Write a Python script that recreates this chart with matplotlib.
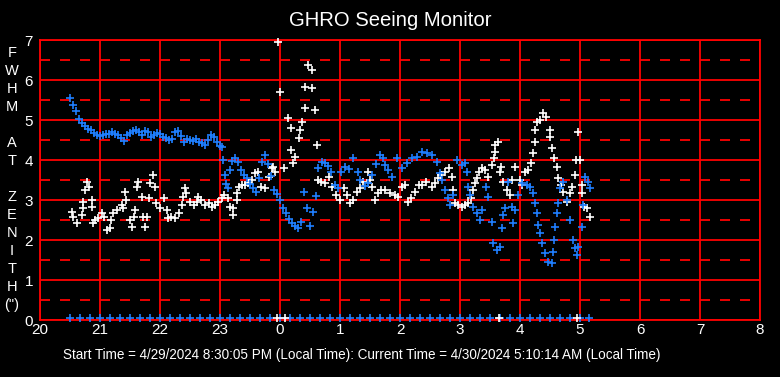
import matplotlib
matplotlib.use("Agg")
import matplotlib.pyplot as plt

plt.rcParams['font.family'] = ['Liberation Sans', 'DejaVu Sans']
plt.rcParams['lines.scale_dashes'] = False

# Hours since the start day's midnight (values past 24 belong to the next day)
blue_t = [20.50, 20.55, 20.60, 20.65, 20.70, 20.75, 20.80, 20.85, 20.90, 20.95,
          21.00, 21.05, 21.10, 21.15, 21.20, 21.25, 21.30, 21.35, 21.40, 21.45,
          21.50, 21.55, 21.60, 21.65, 21.70, 21.75, 21.80, 21.85, 21.90, 21.95,
          22.00, 22.05, 22.10, 22.15, 22.20, 22.25, 22.30, 22.35, 22.40, 22.45,
          22.50, 22.55, 22.60, 22.65, 22.70, 22.75, 22.80, 22.85, 22.90, 22.95,
          23.00, 23.03, 23.05, 23.08, 23.10, 23.13, 23.17, 23.20, 23.25, 23.30,
          23.35, 23.40, 23.45, 23.50, 23.55, 23.60, 23.65, 23.70, 23.75, 23.80,
          23.85, 23.90, 23.95, 24.00, 24.05, 24.10, 24.15, 24.20, 24.25, 24.30,
          24.35, 24.40, 24.45, 24.50, 24.55, 24.60, 24.63, 24.70, 24.75, 24.80,
          24.85, 24.92, 24.97, 25.02, 25.08, 25.15, 25.22, 25.30, 25.33, 25.42,
          25.47, 25.53, 25.60, 25.67, 25.72, 25.75, 25.80, 25.87, 25.95, 26.03,
          26.12, 26.20, 26.28, 26.37, 26.45, 26.53, 26.62, 26.67, 26.70, 26.75,
          26.80, 26.83, 26.88, 26.95, 27.03, 27.08, 27.12, 27.13, 27.17, 27.22,
          27.28, 27.33, 27.37, 27.43, 27.47, 27.53, 27.55, 27.61, 27.67, 27.70,
          27.72, 27.75, 27.80, 27.86, 27.88, 27.92, 27.97, 28.03, 28.11, 28.17,
          28.22, 28.25, 28.28, 28.30, 28.33, 28.36, 28.42, 28.47, 28.53, 28.55,
          28.56, 28.58, 28.61, 28.63, 28.67, 28.72, 28.78, 28.83, 28.88, 28.92,
          28.95, 28.97, 29.03, 29.05, 29.08, 29.13, 29.17]
blue_fwhm = [5.54, 5.37, 5.22, 5.02, 4.92, 4.86, 4.78, 4.74, 4.68, 4.63,
             4.60, 4.62, 4.66, 4.64, 4.70, 4.66, 4.62, 4.55, 4.47, 4.62,
             4.68, 4.72, 4.76, 4.70, 4.63, 4.72, 4.69, 4.58, 4.62, 4.68,
             4.66, 4.58, 4.55, 4.49, 4.53, 4.70, 4.72, 4.60, 4.45, 4.52,
             4.50, 4.48, 4.52, 4.46, 4.42, 4.38, 4.50, 4.62, 4.57, 4.45,
             4.36, 4.33, 4.00, 3.62, 3.40, 3.30, 3.75, 3.98, 4.05, 3.95,
             3.75, 3.62, 3.56, 3.40, 3.30, 3.20, 3.55, 3.96, 4.12, 3.90,
             3.60, 3.25, 3.15, 3.00, 2.80, 2.68, 2.52, 2.42, 2.34, 2.30,
             2.45, 3.20, 2.80, 2.35, 2.70, 3.10, 3.80, 3.96, 3.92, 3.85,
             3.70, 3.37, 3.29, 3.71, 3.82, 3.78, 4.04, 3.70, 3.50, 3.35,
             3.42, 3.62, 3.90, 4.12, 4.05, 3.87, 3.75, 3.58, 4.04, 3.79,
             3.92, 4.04, 4.08, 4.21, 4.17, 4.12, 3.96, 3.67, 3.50, 3.25,
             3.04, 2.87, 3.12, 4.00, 3.87, 3.92, 3.71, 3.33, 3.12, 2.83,
             2.67, 2.50, 2.75, 3.33, 3.08, 2.46, 1.92, 1.75, 1.83, 2.29,
             2.62, 2.79, 3.46, 2.83, 2.42, 2.75, 3.12, 3.42, 3.37, 3.33,
             3.17, 2.92, 2.67, 2.37, 2.17, 1.92, 1.67, 1.46, 1.42, 1.71,
             2.00, 2.33, 2.67, 2.92, 3.29, 3.46, 3.00, 2.50, 2.00, 1.79,
             1.62, 1.83, 2.33, 2.87, 3.58, 3.46, 3.29]

white_t = [20.53, 20.55, 20.61, 20.70, 20.72, 20.72, 20.75, 20.78, 20.81, 20.86,
           20.86, 20.89, 20.92, 20.97, 21.03, 21.06, 21.11, 21.17, 21.19, 21.22,
           21.28, 21.36, 21.39, 21.42, 21.44, 21.50, 21.53, 21.56, 21.58, 21.61,
           21.64, 21.70, 21.72, 21.75, 21.78, 21.81, 21.83, 21.88, 21.92, 21.94,
           22.00, 22.06, 22.11, 22.14, 22.19, 22.25, 22.31, 22.36, 22.39, 22.42,
           22.44, 22.50, 22.56, 22.61, 22.64, 22.69, 22.75, 22.81, 22.86, 22.92,
           22.97, 23.03, 23.06, 23.14, 23.17, 23.22, 23.22, 23.28, 23.28, 23.31,
           23.36, 23.42, 23.47, 23.53, 23.58, 23.64, 23.69, 23.75, 23.81, 23.86,
           23.89, 23.92, 23.97, 24.00, 24.06, 24.14, 24.19, 24.19, 24.22, 24.25,
           24.31, 24.33, 24.36, 24.42, 24.42, 24.47, 24.53, 24.53, 24.58, 24.61,
           24.64, 24.69, 24.75, 24.81, 24.86, 24.94, 25.00, 25.06, 25.11, 25.17,
           25.22, 25.28, 25.33, 25.39, 25.46, 25.50, 25.53, 25.58, 25.64, 25.69,
           25.75, 25.83, 25.92, 25.97, 26.03, 26.08, 26.14, 26.19, 26.25, 26.31,
           26.36, 26.44, 26.53, 26.58, 26.64, 26.69, 26.75, 26.81, 26.86, 26.89,
           26.92, 26.97, 27.03, 27.08, 27.14, 27.19, 27.22, 27.25, 27.28, 27.31,
           27.36, 27.42, 27.47, 27.53, 27.56, 27.58, 27.58, 27.64, 27.67, 27.69,
           27.72, 27.78, 27.83, 27.86, 27.92, 28.00, 28.03, 28.08, 28.14, 28.19,
           28.22, 28.25, 28.25, 28.28, 28.33, 28.39, 28.44, 28.50, 28.50, 28.53,
           28.56, 28.61, 28.64, 28.69, 28.72, 28.78, 28.83, 28.86, 28.92, 28.94,
           28.97, 29.00, 29.03, 29.03, 29.06, 29.11, 29.17]
white_fwhm = [2.71, 2.58, 2.42, 2.62, 2.79, 2.96, 3.25, 3.46, 3.33, 2.83,
              3.00, 2.42, 2.50, 2.54, 2.67, 2.58, 2.25, 2.29, 2.50, 2.67,
              2.75, 2.87, 2.79, 3.21, 3.00, 2.50, 2.33, 2.58, 2.75, 3.33,
              3.46, 3.08, 2.58, 2.33, 2.58, 3.04, 3.42, 3.62, 3.33, 2.92,
              2.79, 3.04, 2.75, 2.54, 2.58, 2.54, 2.67, 2.87, 3.08, 3.29,
              3.17, 2.96, 2.87, 2.96, 3.08, 3.00, 2.87, 2.92, 2.83, 2.87,
              2.96, 3.04, 3.12, 3.04, 2.83, 2.62, 2.79, 3.00, 3.17, 3.33,
              3.37, 3.37, 3.42, 3.50, 3.67, 3.71, 3.33, 3.29, 3.58, 3.79,
              3.83, 3.71, 6.96, 5.71, 3.79, 5.04, 4.79, 4.25, 3.92, 4.08,
              4.54, 4.75, 4.96, 5.83, 5.29, 6.37, 6.25, 5.79, 5.25, 4.37,
              3.50, 3.46, 3.42, 3.58, 3.33, 3.12, 3.00, 3.29, 3.12, 2.92,
              3.00, 3.21, 3.29, 3.46, 3.71, 3.50, 3.33, 3.00, 3.17, 3.25,
              3.25, 3.17, 3.12, 3.08, 3.33, 3.37, 2.96, 3.04, 3.21, 3.37,
              3.37, 3.46, 3.33, 3.42, 3.54, 3.62, 3.71, 3.79, 3.58, 3.25,
              2.92, 2.87, 2.83, 2.87, 2.92, 3.04, 3.25, 3.42, 3.54, 3.71,
              3.79, 3.75, 3.58, 3.87, 4.04, 4.21, 4.37, 4.46, 3.71, 3.83,
              3.46, 3.25, 3.12, 3.50, 3.83, 3.50, 3.37, 3.71, 3.75, 3.92,
              4.17, 4.46, 4.75, 4.96, 5.00, 5.17, 5.08, 4.75, 4.58, 4.29,
              4.04, 3.83, 3.54, 3.37, 3.21, 2.96, 3.17, 3.33, 3.62, 4.00,
              4.71, 4.00, 3.37, 3.17, 2.83, 2.79, 2.58]

# Bottom-row markers (near zero)
flag_blue_t = [20.50, 20.67, 20.83, 21.00, 21.17, 21.33, 21.50, 21.67, 21.83, 22.00,
               22.17, 22.33, 22.50, 22.67, 22.83, 23.00, 23.17, 23.33, 23.50, 23.67,
               23.83, 24.00, 24.17, 24.33, 24.50, 24.67, 24.83, 25.00, 25.17, 25.33,
               25.50, 25.67, 25.83, 26.00, 26.17, 26.33, 26.50, 26.67, 26.83, 27.00,
               27.17, 27.33, 27.50, 27.67, 27.83, 28.00, 28.17, 28.33, 28.50, 28.67,
               28.83, 29.00, 29.15]
flag_blue_v = [0.06] * len(flag_blue_t)
flag_white_t = [23.95, 24.08, 27.65, 28.95]
flag_white_v = [0.06] * len(flag_white_t)

x_ticks = [20, 21, 22, 23, 24, 25, 26, 27, 28, 29, 30, 31, 32]
x_labels = ['20', '21', '22', '23', '0', '1', '2', '3', '4', '5', '6', '7', '8']
y_ticks = [0, 1, 2, 3, 4, 5, 6, 7]

title = "GHRO Seeing Monitor"
ylabel_letters = ['F', 'W', 'H', 'M', '', 'A', 'T', '', 'Z', 'E', 'N', 'I', 'T', 'H', '(")']
footer = "Start Time = 4/29/2024 8:30:05 PM (Local Time): Current Time = 4/30/2024 5:10:14 AM (Local Time)"

RED = '#ff0000'
BLUE = '#1f7fff'
W, H = 780, 377

fig = plt.figure(figsize=(W / 100, H / 100), dpi=100, facecolor='black')
ax = fig.add_axes([40 / W, (H - 320) / H, 720 / W, 280 / H], facecolor='black')
ax.set_xlim(20, 32)
ax.set_ylim(0, 7)

# grid
for xv in x_ticks:
    ax.axvline(xv, color=RED, lw=1.3, zorder=1)
for yv in y_ticks:
    ax.axhline(yv, color=RED, lw=1.3, zorder=1)
for yv in [0.5, 1.5, 2.5, 3.5, 4.5, 5.5, 6.5]:
    ax.axhline(yv, color=RED, lw=1.3, dashes=(7.2, 7.2), zorder=1)

mk = dict(linestyle='none', marker='+', markersize=6.3, markeredgewidth=1.2, zorder=3, clip_on=False)
ax.plot(white_t, white_fwhm, color='white', **mk)
ax.plot(blue_t, blue_fwhm, color=BLUE, **mk)
ax.plot(flag_blue_t, flag_blue_v, color=BLUE, **mk)
ax.plot(flag_white_t, flag_white_v, color='white', **mk)

for s in ax.spines.values():
    s.set_color(RED)
    s.set_linewidth(1.3)

ax.set_xticks(x_ticks)
ax.set_xticklabels(x_labels)
ax.set_yticks(y_ticks)
ax.tick_params(length=0, colors='white', labelsize=11)
ax.tick_params(axis='y', pad=5)
ax.tick_params(axis='x', pad=2)

fig.text(0.5, (H - 20) / H, title, color='white', fontsize=14.6, ha='center', va='center')
fig.text(12 / W, (H - 179) / H, "\n".join(ylabel_letters), color='white', fontsize=10.5,
         ha='center', va='center', linespacing=1.37)
fig.text(362 / W, (H - 355) / H, footer, color='white', fontsize=9.75, ha='center', va='center')

fig.savefig('out.png', dpi=100, facecolor='black')
